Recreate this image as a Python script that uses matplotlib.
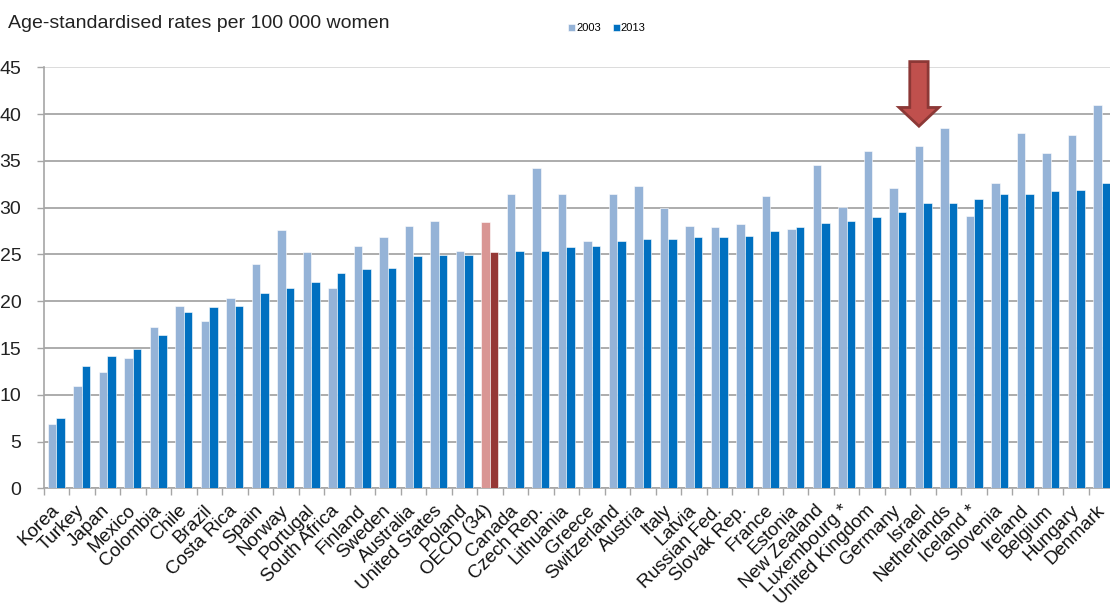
import matplotlib
matplotlib.use("Agg")
import matplotlib.pyplot as plt
import numpy as np
from matplotlib.patches import Polygon

countries = ["Korea", "Turkey", "Japan", "Mexico", "Colombia", "Chile", "Brazil", "Costa Rica",
             "Spain", "Norway", "Portugal", "South Africa", "Finland", "Sweden", "Australia",
             "United States", "Poland", "OECD (34)", "Canada", "Czech Rep.", "Lithuania", "Greece",
             "Switzerland", "Austria", "Italy", "Latvia", "Russian Fed.", "Slovak Rep.", "France",
             "Estonia", "New Zealand", "Luxembourg *", "United Kingdom", "Germany", "Israel",
             "Netherlands", "Iceland *", "Slovenia", "Ireland", "Belgium", "Hungary", "Denmark"]
rates_2003 = [6.9, 10.9, 12.4, 13.9, 17.3, 19.5, 17.9, 20.4, 24.0, 27.6, 25.3, 21.4, 25.9, 26.9,
              28.0, 28.6, 25.4, 28.5, 31.5, 34.2, 31.5, 26.4, 31.5, 32.3, 30.0, 28.0, 27.9, 28.2,
              31.2, 27.7, 34.6, 30.1, 36.0, 32.1, 36.6, 38.5, 29.1, 32.6, 38.0, 35.8, 37.8, 41.0]
rates_2013 = [7.5, 13.1, 14.2, 14.9, 16.4, 18.9, 19.4, 19.5, 20.9, 21.4, 22.1, 23.0, 23.4, 23.5,
              24.8, 24.9, 24.9, 25.3, 25.4, 25.4, 25.8, 25.9, 26.4, 26.7, 26.7, 26.9, 26.9, 27.0,
              27.5, 27.9, 28.4, 28.6, 29.0, 29.5, 30.5, 30.5, 30.9, 31.5, 31.5, 31.8, 31.9, 32.6]
series_names = ["2003", "2013"]
highlight = "OECD (34)"
arrow_target = "Israel"
yticks = list(range(0, 50, 5))

plt.rcParams['font.family'] = ['Liberation Sans', 'DejaVu Sans']

c_light, c_dark = "#95B3D7", "#0070C0"
h_light, h_dark = "#D99694", "#953735"

fig = plt.figure(figsize=(11.1, 6.11), dpi=100)
ax = fig.add_axes([0.0393, 0.2005, 0.9647, 0.6895])

n = len(countries)
x = np.arange(n)
w = 0.335
col1 = [h_light if c == highlight else c_light for c in countries]
col2 = [h_dark if c == highlight else c_dark for c in countries]
ax.bar(x - w / 2, rates_2003, width=w, color=col1, edgecolor="white", linewidth=0.4, zorder=3,
       label=series_names[0])
ax.bar(x + w / 2, rates_2013, width=w, color=col2, edgecolor="white", linewidth=0.4, zorder=3,
       label=series_names[1])

ax.set_xlim(-0.5, n - 0.5)
ax.set_ylim(0, 45)
ax.set_yticks(yticks)
ax.set_yticklabels([str(t) for t in yticks], fontsize=14, color="#222222")
for t in yticks:
    ax.axhline(t, color="#d9d9d9" if t == 45 else "#a6a6a6", linewidth=1.3, zorder=1)

ax.set_xticks(x)
ax.set_xticklabels(countries, rotation=45, ha="right", va="center", rotation_mode="anchor",
                   fontsize=13.5, color="#111111")
ax.tick_params(axis="x", which="major", length=0, pad=14)
ax.set_xticks(np.arange(-0.5, n, 1), minor=True)
ax.tick_params(axis="x", which="minor", length=5, color="#a6a6a6", width=1)
ax.tick_params(axis="y", length=5, color="#a6a6a6", width=1, pad=11)

for s in ["top", "right"]:
    ax.spines[s].set_visible(False)
for s in ["left", "bottom"]:
    ax.spines[s].set_color("#a6a6a6")
    ax.spines[s].set_linewidth(1.2)

# Arrow pointing at Israel
i = countries.index(arrow_target) - w / 2
sw, hw = 0.36, 0.78
y_top, y_base, y_tip = 45.6, 40.7, 38.7
pts = [(i - sw, y_top), (i + sw, y_top), (i + sw, y_base), (i + hw, y_base), (i, y_tip),
       (i - hw, y_base), (i - sw, y_base)]
ax.add_patch(Polygon(pts, closed=True, facecolor="#C0504D", edgecolor="#8C3836", linewidth=2,
                     clip_on=False, zorder=5))

fig.text(0.007, 0.975, "Age-standardised rates per 100 000 women", fontsize=14, va="top",
         ha="left", color="#222222")
leg = fig.legend(loc="upper left", bbox_to_anchor=(0.503, 0.978), ncol=2, frameon=False,
                 fontsize=8, handlelength=0.6, handleheight=0.6, handletextpad=0.1,
                 columnspacing=1.1)

fig.savefig("out.png", dpi=100)
